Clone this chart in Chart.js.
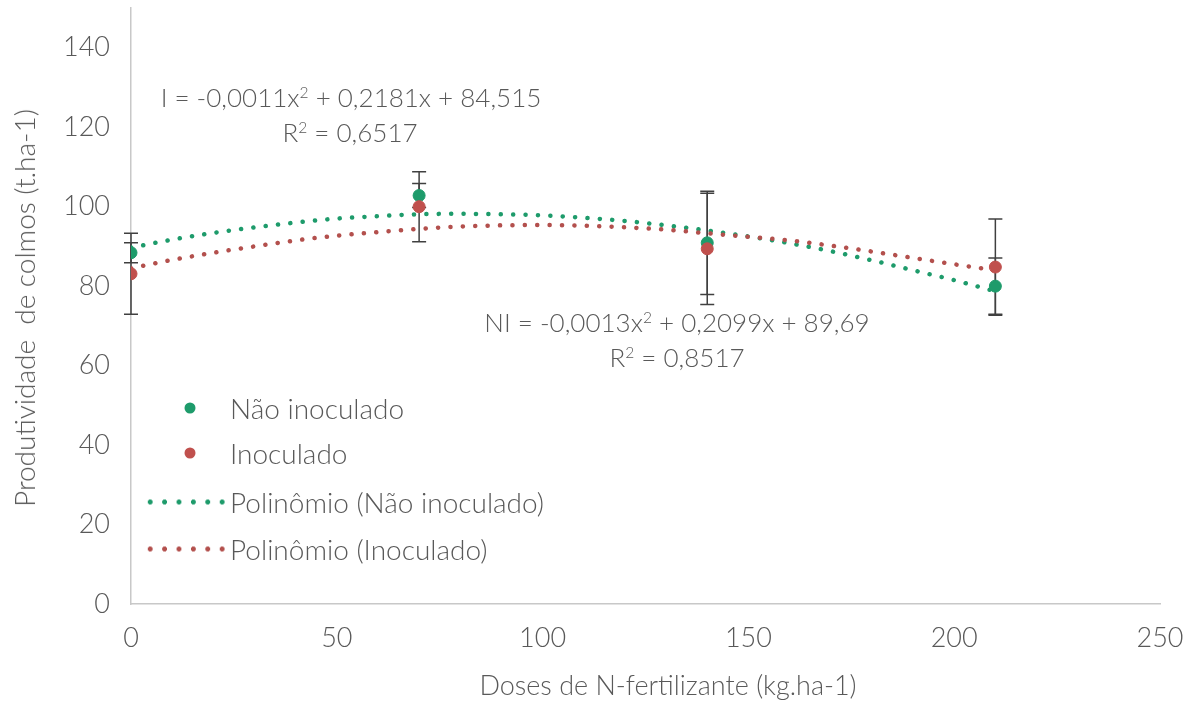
<!DOCTYPE html>
<html lang="pt">
<head>
<meta charset="utf-8">
<title>Produtividade de colmos</title>
<script src="https://cdn.jsdelivr.net/npm/chart.js@4.4.1/dist/chart.umd.min.js"></script>
<style>
    html, body { margin: 0; padding: 0; background: #fff; }
    #quadro { position: relative; width: 1192px; height: 701px; font-family: Lato, "Open Sans", sans-serif; font-weight: 300; color: #595959; }
    #grafico { position: absolute; left: 0; top: 0; }
    .texto { position: absolute; white-space: nowrap; line-height: 1; font-size: 26px; transform: translate(-50%, -50%); }
    .legenda { position: absolute; white-space: nowrap; font-size: 28px; line-height: 1; transform: translateY(-50%); }
    sup { font-size: 0.6em; vertical-align: 0.6em; line-height: 0; }
    .ponto { position: absolute; width: 11px; height: 11px; border-radius: 50%; transform: translate(-50%, -50%); }
    .pontilhado { position: absolute; width: 86px; height: 5px; transform: translateY(-50%); background-size: 14.4px 5px; background-repeat: repeat-x; }
</style>
</head>
<body>
<div id="quadro">
    <canvas id="grafico" width="1192" height="701"></canvas>

    <div class="texto" style="left:24px; top:308px; font-size:28px; transform: translate(-50%, -50%) rotate(-90deg);">Produtividade&nbsp; de colmos (t.ha-1)</div>
    <div class="texto" style="left:668px; top:684px; font-size:27px;">Doses de N-fertilizante (kg.ha-1)</div>

    <div class="texto" style="left:351px; top:97px;">I = -0,0011x<sup>2</sup> + 0,2181x + 84,515</div>
    <div class="texto" style="left:350px; top:132px;">R<sup>2</sup> = 0,6517</div>
    <div class="texto" style="left:677px; top:322px;">NI = -0,0013x<sup>2</sup> + 0,2099x + 89,69</div>
    <div class="texto" style="left:677px; top:357px;">R<sup>2</sup> = 0,8517</div>

    <div class="ponto" style="left:190px; top:408px; background:#1E9B6B;"></div>
    <div class="legenda" style="left:230px; top:408px;">Não inoculado</div>
    <div class="ponto" style="left:190px; top:453px; background:#C0504D;"></div>
    <div class="legenda" style="left:230px; top:453px;">Inoculado</div>
    <div class="pontilhado" style="left:143px; top:502px; background-image: radial-gradient(circle, #1E9B6B 2.2px, transparent 2.7px);"></div>
    <div class="legenda" style="left:230px; top:502px;">Polinômio (Não inoculado)</div>
    <div class="pontilhado" style="left:143px; top:549px; background-image: radial-gradient(circle, #B3504D 2.2px, transparent 2.7px);"></div>
    <div class="legenda" style="left:230px; top:549px;">Polinômio (Inoculado)</div>
</div>
<script>
// doses de N (kg/ha) e médias
const doses = [0, 70, 140, 210];
const naoInoculado = [88.4, 102.8, 90.9, 80.0];
const inoculado = [83.1, 100.0, 89.4, 84.8];
const erroNaoInoculado = [2.5, 3.0, 13.0, 7.1];
const erroInoculado = [10.2, 8.8, 14.0, 12.1];

// linhas de tendência (polinômio)
const dosesTendencia = [0, 10, 20, 30, 40, 50, 60, 70, 80, 90, 100, 110, 120, 130, 140, 150, 160, 170, 180, 190, 200, 210];
const tendNaoInoculado = [89.7, 91.7, 93.4, 94.8, 96.0, 97.0, 97.6, 98.1, 98.2, 98.1, 97.8, 97.2, 96.4, 95.3, 94.0, 92.5, 90.8, 88.8, 86.5, 84.0, 81.5, 78.7];
const tendInoculado = [84.5, 86.6, 88.4, 90.0, 91.5, 92.7, 93.6, 94.4, 95.0, 95.3, 95.4, 95.2, 94.8, 94.2, 93.3, 92.4, 91.5, 90.2, 88.7, 87.1, 85.5, 84.0];

const xTicks = [0, 50, 100, 150, 200, 250];
const yTicks = [0, 20, 40, 60, 80, 100, 120, 140];

const corVerde = '#1E9B6B';
const corVermelho = '#C0504D';

function pares(xs, ys) {
    return xs.map((v, i) => ({ x: v, y: ys[i] }));
}

// barras de erro desenhadas com as escalas do gráfico
const barrasErro = {
    id: 'barrasErro',
    beforeDatasetsDraw(chart) {
        const { ctx, scales: { x, y } } = chart;
        ctx.save();
        ctx.strokeStyle = '#404040';
        ctx.lineWidth = 1.5;
        [[naoInoculado, erroNaoInoculado], [inoculado, erroInoculado]].forEach(([medias, erros]) => {
            doses.forEach((d, i) => {
                const px = x.getPixelForValue(d);
                const topo = y.getPixelForValue(medias[i] + erros[i]);
                const base = y.getPixelForValue(medias[i] - erros[i]);
                ctx.beginPath();
                ctx.moveTo(px, topo);
                ctx.lineTo(px, base);
                ctx.moveTo(px - 7, topo);
                ctx.lineTo(px + 7, topo);
                ctx.moveTo(px - 7, base);
                ctx.lineTo(px + 7, base);
                ctx.stroke();
            });
        });
        ctx.restore();
    }
};

const fonteTicks = { family: 'Lato, "Open Sans", sans-serif', size: 27, weight: 300 };

// tira o espaço extra que o Chart.js reserva para os rótulos das pontas
function semPadding(s) {
    s.paddingTop = 0;
    s.paddingBottom = 0;
    s.paddingLeft = 0;
    s.paddingRight = 0;
}

new Chart(document.getElementById('grafico'), {
    type: 'scatter',
    data: {
        datasets: [{
            label: 'Inoculado',
            data: pares(doses, inoculado),
            backgroundColor: corVermelho,
            borderColor: corVermelho,
            pointRadius: 6,
            order: 0
        }, {
            label: 'Não inoculado',
            data: pares(doses, naoInoculado),
            backgroundColor: corVerde,
            borderColor: corVerde,
            pointRadius: 6,
            order: 1
        }, {
            label: 'Polinômio (Inoculado)',
            data: pares(dosesTendencia, tendInoculado),
            showLine: true,
            borderColor: '#B3504D',
            borderWidth: 4.5,
            borderDash: [0.1, 12.3],
            borderCapStyle: 'round',
            cubicInterpolationMode: 'monotone',
            pointRadius: 0,
            order: 2
        }, {
            label: 'Polinômio (Não inoculado)',
            data: pares(dosesTendencia, tendNaoInoculado),
            showLine: true,
            borderColor: corVerde,
            borderWidth: 4.5,
            borderDash: [0.1, 12.3],
            borderCapStyle: 'round',
            cubicInterpolationMode: 'monotone',
            pointRadius: 0,
            order: 3
        }]
    },
    options: {
        responsive: false,
        animation: false,
        layout: { padding: { top: 8, right: 32, bottom: 0, left: 0 } },
        plugins: {
            legend: { display: false },
            tooltip: { enabled: false }
        },
        scales: {
            x: {
                type: 'linear',
                min: 0,
                max: 250,
                afterBuildTicks: (s) => { s.ticks = xTicks.map(v => ({ value: v })); },
                afterFit: (s) => { s.height = 97; semPadding(s); },
                ticks: { color: '#595959', font: fonteTicks, padding: 18 },
                grid: { display: false, drawTicks: false },
                border: { display: true, color: '#C8C8C8', width: 1.5 }
            },
            y: {
                type: 'linear',
                min: 0,
                max: 150,
                afterBuildTicks: (s) => { s.ticks = yTicks.map(v => ({ value: v })); },
                afterFit: (s) => { s.width = 131; semPadding(s); },
                ticks: { color: '#595959', font: fonteTicks, padding: 21 },
                grid: { display: false, drawTicks: false },
                border: { display: true, color: '#C8C8C8', width: 1.5 }
            }
        }
    },
    plugins: [barrasErro]
});
</script>
</body>
</html>
